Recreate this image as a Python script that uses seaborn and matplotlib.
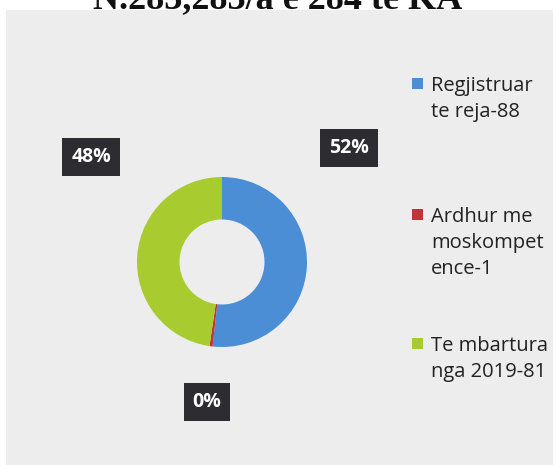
import matplotlib
matplotlib.use("Agg")
import matplotlib.pyplot as plt
import seaborn as sns
from matplotlib.patches import Rectangle

# Data
categories = ["Regjistruar\nte reja", "Ardhur me\nmoskompet\nence", "Te mbartura\nnga 2019"]
values = [88, 1, 81]
pct_labels = ["52%", "0%", "48%"]
colors = ["#4b8ed6", "#c0343a", "#a8cb30"]
title = "N.283,283/a e 284 te KA"

sns.set_theme(style="white")
plt.rcParams['font.family'] = ['Open Sans', 'DejaVu Sans']

fig = plt.figure(figsize=(5.56, 4.65), dpi=100)
W, H = 556, 465

def fx(px):
    return px / W

def fy(py):
    return 1 - py / H

# grey panel of the scanned chart
fig.patches.append(Rectangle((fx(6), 0), fx(547), fy(10), transform=fig.transFigure,
                             facecolor="#ededed", edgecolor="none", zorder=-5))

# title, cut at the top of the scan
fig.text(0.5, fy(8), title, ha="center", va="baseline", fontsize=26,
         family="Liberation Serif", fontweight="bold", color="#111111")

# donut
cx, cy, r = 222, 262, 85
ax = fig.add_axes([fx(cx - r), fy(cy + r), 2 * r / W, 2 * r / H], zorder=2)
wedges, _ = ax.pie(values, colors=colors, startangle=90, counterclock=False,
                   wedgeprops=dict(width=0.5, edgecolor="none"))
ax.set_xlim(-1, 1)
ax.set_ylim(-1, 1)
ax.set_aspect("equal")
ax.axis("off")

# percentage labels in dark boxes
label_pos = [(349, 148), (207, 402), (91, 157)]
for lab, (px, py) in zip(pct_labels, label_pos):
    fig.text(fx(px), fy(py), lab, ha="center", va="center",
             fontsize=14, fontweight="bold", color="white",
             bbox=dict(boxstyle="square,pad=0.45", facecolor="#2c2c31", edgecolor="none"))

# legend, drawn by hand to keep the uneven spacing of the original
legend_y = [83, 214, 343]
for cat, v, c, py in zip(categories, values, colors, legend_y):
    fig.patches.append(Rectangle((fx(412), fy(py + 6)), fx(11), 11 / H, transform=fig.transFigure,
                                 facecolor=c, edgecolor="none"))
    fig.text(fx(431), fy(py - 7), f"{cat}-{v}", ha="left", va="top", fontsize=14.5,
             color="#222222", linespacing=1.4)

fig.savefig("out.png", dpi=100)
